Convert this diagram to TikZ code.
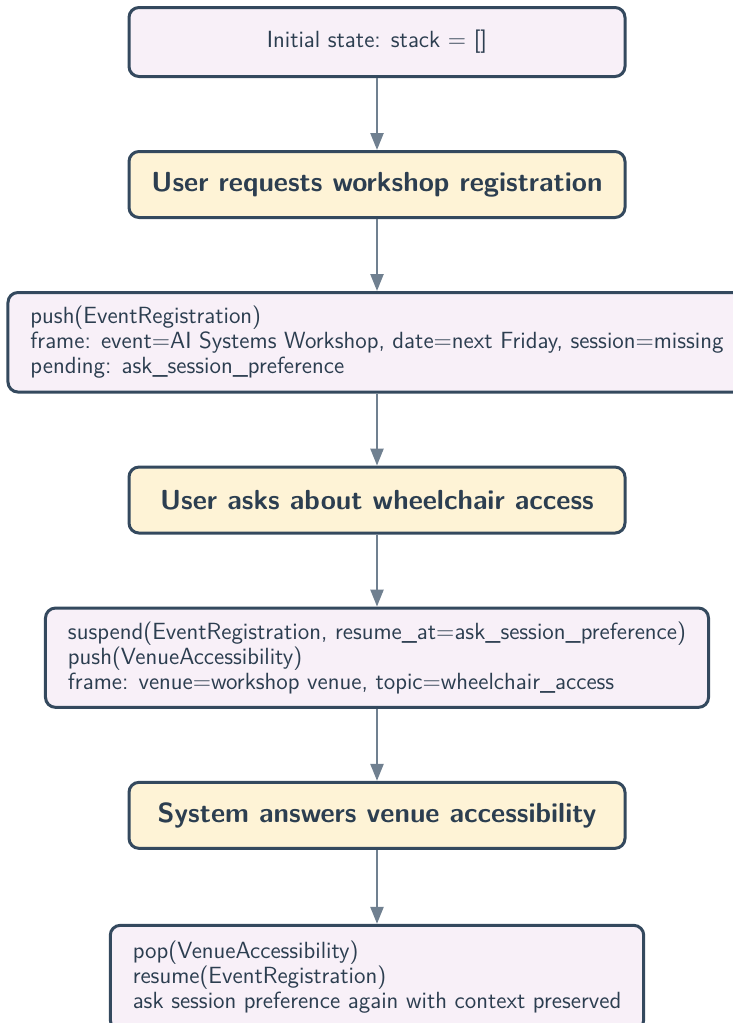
\documentclass[tikz,border=0pt]{standalone}
\usepackage{fontspec}
\usepackage{tikz}
\usetikzlibrary{positioning,arrows.meta}
\definecolor{boxline}{HTML}{34495E}
\definecolor{arrowgray}{HTML}{708090}
\definecolor{textdark}{HTML}{2C3E50}
\definecolor{framefill}{HTML}{F8F0F8}
\definecolor{stepfill}{HTML}{FEF3D6}
\tikzset{node distance=36pt,every node/.style={font=\sffamily\fontsize{11.7}{12.5}\selectfont,text=textdark},
  framebox/.style={draw=boxline,line width=1.5pt,rounded corners=5pt,fill=framefill,
    align=left,inner xsep=11.25pt,inner ysep=6.8pt},
  stepbox/.style={draw=boxline,line width=1.5pt,rounded corners=5pt,fill=stepfill,
    minimum width=248pt,minimum height=33pt,font=\sffamily\fontsize{13.8}{16}\selectfont\bfseries},
  flow/.style={color=arrowgray,line width=1.2pt,-{Triangle[length=8.5pt,width=6.5pt]}}}
\begin{document}
\begin{tikzpicture}
    \useasboundingbox (0,0) rectangle (366.5pt,-511.5pt);
    \node[framebox,align=center,minimum width=248pt,minimum height=34.5pt] (1) at (188.5pt,-21pt) {Initial state: stack $=$ []};
    \node[stepbox] (2) [below=of 1] {User requests workshop registration};
    \node[framebox] (3) [below=of 2] {push(EventRegistration)\\frame: event$=$AI Systems Workshop, date$=$next Friday, session$=$missing\\pending: ask\_session\_preference};
    \node[stepbox] (4) [below=of 3] {User asks about wheelchair access};
    \node[framebox] (5) [below=of 4] {suspend(EventRegistration, resume\_at$=$ask\_session\_preference)\\push(VenueAccessibility)\\frame: venue$=$workshop venue, topic$=$wheelchair\_access};
    \node[stepbox] (6) [below=of 5] {System answers venue accessibility};
    \node[framebox,yshift=-1pt,inner ysep=8pt] (7) [below=of 6] {pop(VenueAccessibility)\\resume(EventRegistration)\\ask session preference again with context preserved};
    \path[flow]
    (1) edge (2)
    (2) edge (3)
    (3) edge (4)
    (4) edge (5)
    (5) edge (6)
    (6) edge (7)
    ;
\end{tikzpicture}
\end{document}
